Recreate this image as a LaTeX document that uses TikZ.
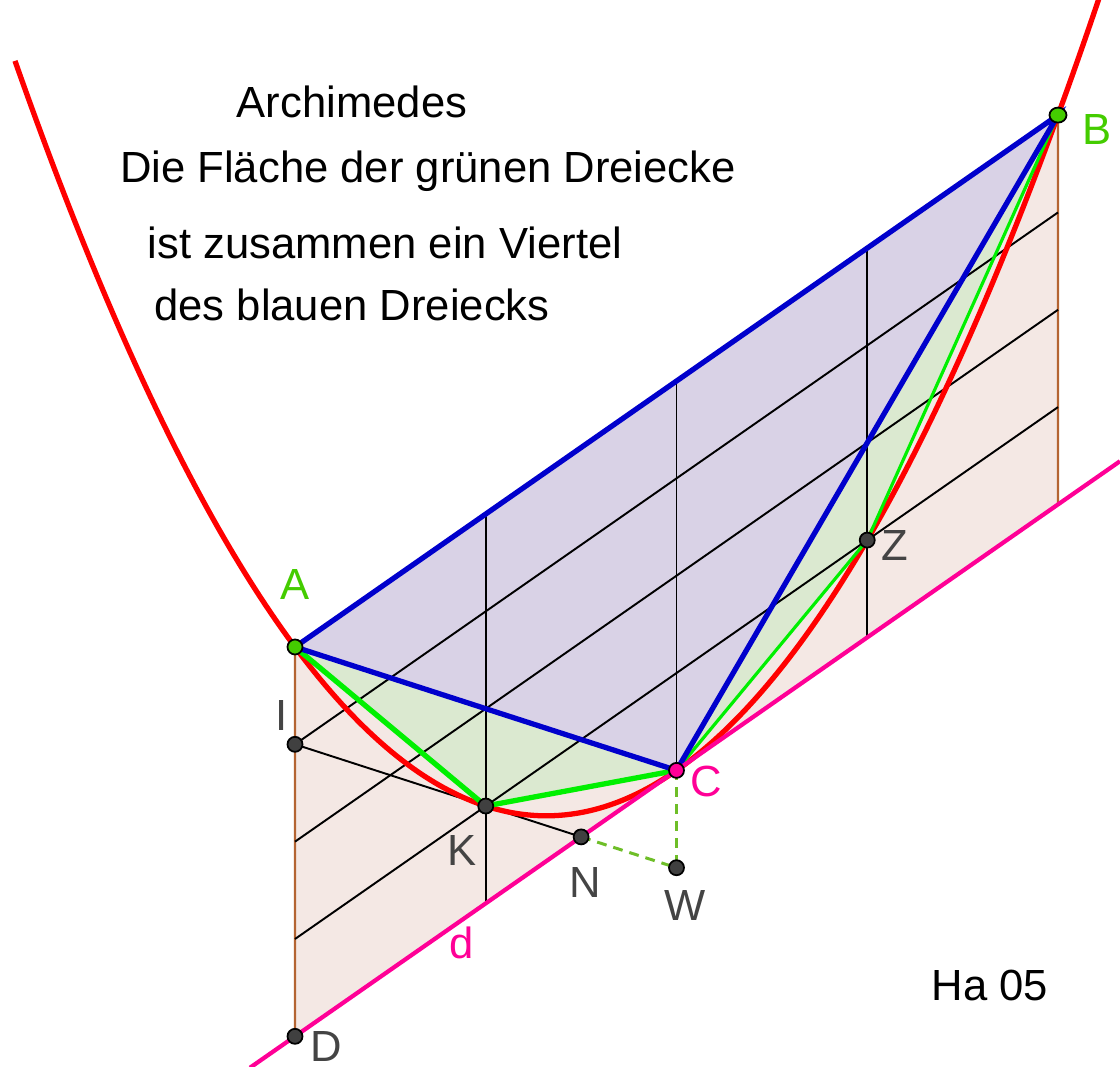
\documentclass[tikz,border=0pt]{standalone}
\usepackage{fontspec}
\setmainfont{Liberation Sans}
\usetikzlibrary{calc,shapes.geometric}
\definecolor{parabred}{RGB}{255,0,0}
\definecolor{triblue}{RGB}{0,0,204}
\definecolor{brightgreen}{RGB}{0,240,0}
\definecolor{lavfill}{RGB}{217,210,230}
\definecolor{greenfill}{RGB}{219,233,208}
\definecolor{peachfill}{RGB}{244,232,228}
\definecolor{edgebrown}{RGB}{180,100,50}
\definecolor{tanmagenta}{RGB}{255,0,150}
\definecolor{labgreen}{RGB}{68,204,0}
\definecolor{dashgreen}{RGB}{110,190,40}
\definecolor{labgray}{RGB}{68,68,68}
\definecolor{ptgray}{RGB}{64,64,64}
\tikzset{
  gridline/.style={black, line width=0.55pt},
  parab/.style={parabred, line width=1.5pt},
  blueedge/.style={triblue, line width=1.5pt, line cap=round},
  greenthick/.style={brightgreen, line width=1.5pt, line cap=round},
  greenthin/.style={brightgreen, line width=0.9pt},
  tangentd/.style={tanmagenta, line width=1.2pt},
  helperdash/.style={dashgreen, line width=0.85pt, dash pattern=on 2.8pt off 2pt},
  ptdot/.style={circle, draw=black, line width=0.5pt, inner sep=0pt, minimum size=0.15cm, fill=ptgray},
  lab/.style={inner sep=0pt, text=labgray},
  titletext/.style={inner sep=0pt, anchor=base, text=black}
}
\begin{document}
\begin{tikzpicture}[x=0.01cm,y=-0.01cm, font=\fontsize{12.4pt}{14pt}\selectfont]
\useasboundingbox (0,0) rectangle (1120,1067);
% key points
\coordinate (A) at (295,647);
\coordinate (B) at (1058,115.1);
\coordinate (C) at (676.5,770.4);
\coordinate (K) at (485.75,806.04);
\coordinate (Z) at (867.25,540.09);
\coordinate (D) at (295,1036.35);
\coordinate (Bp) at (1058,504.45);
\coordinate (I) at ($(A)!0.25!(D)$);
\coordinate (N) at ($(I)!1.5!(K)$);
\coordinate (W) at ($(I)!2!(K)$);
\coordinate (dS) at ($(C)!-1.118!(Bp)$);
\coordinate (dE) at ($(C)!1.1625!(Bp)$);
% fills
\fill[peachfill] (A) -- (B) -- (Bp) -- (D) -- cycle;
\draw[edgebrown, line width=0.7pt] (A) -- (D) -- (Bp) -- (B);
\fill[lavfill] (A) -- (B) -- (C) -- cycle;
\fill[greenfill] (A) -- (K) -- (C) -- cycle;
\fill[greenfill] (C) -- (Z) -- (B) -- cycle;
% grid
\foreach \f/\n in {0.25/1, 0.5/2, 0.75/3}{
  \coordinate (S\n) at ($(A)!\f!(D)$);
  \coordinate (T\n) at ($(B)!\f!(Bp)$);
  \draw[gridline] (S\n) -- (T\n);
}
\coordinate (V1t) at ($(A)!0.25!(B)$);
\coordinate (V1b) at ($(D)!0.25!(Bp)$);
\coordinate (V2t) at ($(A)!0.5!(B)$);
\coordinate (V3t) at ($(A)!0.75!(B)$);
\coordinate (V3b) at ($(D)!0.75!(Bp)$);
\draw[gridline] (V1t) -- (V1b);
\draw[gridline] (V2t) -- (C);
\draw[gridline] (V3t) -- (V3b);
\draw[gridline] (I) -- (N);
% parabola
\draw[parab] plot[domain=-1.734:1.11, samples=200, variable=\t] ({676.5+381.5*\t}, {770.4-265.95*\t-389.35*\t*\t});
% green edges
\draw[greenthin] (C) -- (Z) -- (B);
\draw[greenthick] (A) -- (K) -- (C);
% blue triangle
\draw[blueedge] (A) -- (B) -- (C) -- cycle;
% tangent d
\draw[tangentd] (dS) -- (dE);
% dashed helpers
\draw[helperdash] (N) -- (W);
\draw[helperdash] (C) -- (W);
% points
\node[ptdot] (pI) at (I) {};
\node[ptdot] (pK) at (K) {};
\node[ptdot] (pN) at (N) {};
\node[ptdot] (pW) at (W) {};
\node[ptdot] (pZ) at (Z) {};
\node[ptdot] (pD) at (D) {};
\node[ptdot, fill=labgreen] (pA) at (A) {};
\node[ptdot, ellipse, fill=labgreen, minimum width=0.17cm, minimum height=0.15cm] (pB) at (B) {};
\node[ptdot, fill=tanmagenta] (pC) at (C) {};
% labels
\node[lab, text=labgreen] (lA) at (295,585) {A};
\node[lab, text=labgreen] (lB) at (1097,130) {B};
\node[lab, text=tanmagenta] (lC) at (706,781) {C};
\node[lab] (lZ) at (895,546) {Z};
\node[lab] (lI) at (282,716) {I};
\node[lab] (lK) at (462,851) {K};
\node[lab] (lN) at (585,883) {N};
\node[lab] (lW) at (685,906) {W};
\node[lab] (lD) at (326,1047) {D};
\node[lab, text=tanmagenta] (ld) at (462,943) {d};
\node[lab, text=black] (ha) at (990,985) {Ha 05};
% title
\node[titletext] (t1) at (352,118) {Archimedes};
\node[titletext] (t2) at (428,183) {Die Fläche der grünen Dreiecke};
\node[titletext] (t3) at (385,259) {ist zusammen ein Viertel};
\node[titletext] (t4) at (352,321) {des blauen Dreiecks};
\end{tikzpicture}
\end{document}
